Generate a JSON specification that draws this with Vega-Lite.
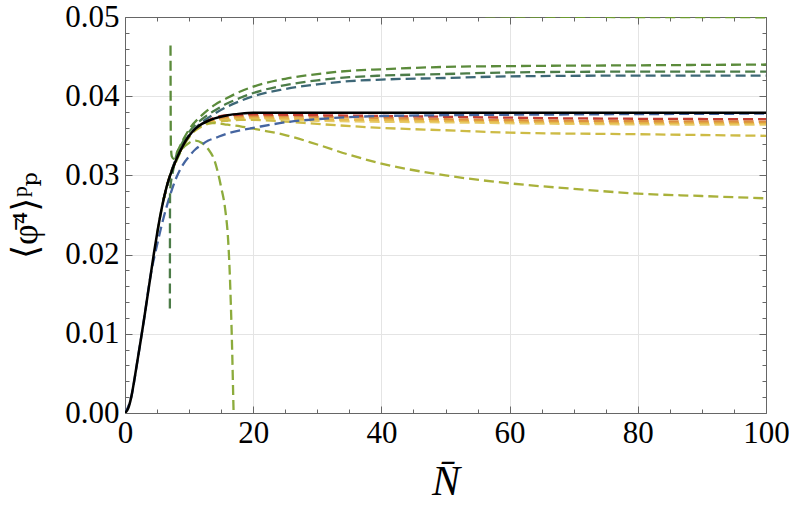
{
  "$schema": "https://vega.github.io/schema/vega-lite/v6.json",
  "width": 641,
  "height": 396,
  "autosize": {"type": "none"},
  "padding": {"left": 125, "top": 17, "right": 23, "bottom": 106},
  "background": "white",
  "config": {"view": {"stroke": null}, "font": "Liberation Serif"},
  "data": {
    "values": [
      {"s": "s01", "n": 56.2, "v": 0.05008}, {"s": "s01", "n": 70, "v": 0.05002}, {"s": "s01", "n": 100, "v": 0.04997},

      {"s": "s02", "n": 6, "v": 0.0269}, {"s": "s02", "n": 7, "v": 0.0299}, {"s": "s02", "n": 8, "v": 0.032}, {"s": "s02", "n": 9, "v": 0.0337}, {"s": "s02", "n": 10, "v": 0.035}, {"s": "s02", "n": 11, "v": 0.0358},
      {"s": "s02", "n": 12, "v": 0.0364}, {"s": "s02", "n": 14, "v": 0.0369}, {"s": "s02", "n": 16, "v": 0.0371}, {"s": "s02", "n": 20, "v": 0.0372}, {"s": "s02", "n": 30, "v": 0.0369}, {"s": "s02", "n": 50, "v": 0.0367}, {"s": "s02", "n": 70, "v": 0.0365}, {"s": "s02", "n": 100, "v": 0.0364},

      {"s": "s03", "n": 6, "v": 0.0269}, {"s": "s03", "n": 7, "v": 0.0299}, {"s": "s03", "n": 8, "v": 0.032}, {"s": "s03", "n": 9, "v": 0.0337}, {"s": "s03", "n": 10, "v": 0.035}, {"s": "s03", "n": 11, "v": 0.0359},
      {"s": "s03", "n": 12, "v": 0.0365}, {"s": "s03", "n": 14, "v": 0.037}, {"s": "s03", "n": 16, "v": 0.0372}, {"s": "s03", "n": 20, "v": 0.0373}, {"s": "s03", "n": 30, "v": 0.0371}, {"s": "s03", "n": 50, "v": 0.0369}, {"s": "s03", "n": 70, "v": 0.0367}, {"s": "s03", "n": 100, "v": 0.0366},

      {"s": "s04", "n": 6, "v": 0.0269}, {"s": "s04", "n": 7, "v": 0.0299}, {"s": "s04", "n": 8, "v": 0.032}, {"s": "s04", "n": 9, "v": 0.0337}, {"s": "s04", "n": 10, "v": 0.035}, {"s": "s04", "n": 11, "v": 0.0359},
      {"s": "s04", "n": 12, "v": 0.0365}, {"s": "s04", "n": 14, "v": 0.0371}, {"s": "s04", "n": 16, "v": 0.0374}, {"s": "s04", "n": 20, "v": 0.0375}, {"s": "s04", "n": 30, "v": 0.0374}, {"s": "s04", "n": 50, "v": 0.0371}, {"s": "s04", "n": 70, "v": 0.0369}, {"s": "s04", "n": 100, "v": 0.0368},

      {"s": "s05", "n": 6, "v": 0.0269}, {"s": "s05", "n": 7, "v": 0.0299}, {"s": "s05", "n": 8, "v": 0.032}, {"s": "s05", "n": 9, "v": 0.0337}, {"s": "s05", "n": 10, "v": 0.035}, {"s": "s05", "n": 11, "v": 0.0359}, {"s": "s05", "n": 12, "v": 0.0365},
      {"s": "s05", "n": 14, "v": 0.0373}, {"s": "s05", "n": 16, "v": 0.0376}, {"s": "s05", "n": 20, "v": 0.0377}, {"s": "s05", "n": 30, "v": 0.0376}, {"s": "s05", "n": 50, "v": 0.0374}, {"s": "s05", "n": 70, "v": 0.0372}, {"s": "s05", "n": 100, "v": 0.0371},

      {"s": "s06", "n": 6, "v": 0.0269}, {"s": "s06", "n": 7, "v": 0.0299}, {"s": "s06", "n": 8, "v": 0.032}, {"s": "s06", "n": 9, "v": 0.0336},
      {"s": "s06", "n": 10, "v": 0.0349}, {"s": "s06", "n": 12, "v": 0.0362}, {"s": "s06", "n": 14, "v": 0.0367}, {"s": "s06", "n": 16, "v": 0.0369}, {"s": "s06", "n": 18, "v": 0.037}, {"s": "s06", "n": 20, "v": 0.037}, {"s": "s06", "n": 25, "v": 0.0368}, {"s": "s06", "n": 30, "v": 0.0365}, {"s": "s06", "n": 40, "v": 0.036}, {"s": "s06", "n": 50, "v": 0.0357}, {"s": "s06", "n": 60, "v": 0.0354}, {"s": "s06", "n": 80, "v": 0.0352}, {"s": "s06", "n": 100, "v": 0.035},

      {"s": "s07", "n": 6, "v": 0.0269}, {"s": "s07", "n": 7, "v": 0.0299}, {"s": "s07", "n": 8, "v": 0.032}, {"s": "s07", "n": 9, "v": 0.0336},
      {"s": "s07", "n": 10, "v": 0.0348}, {"s": "s07", "n": 11, "v": 0.0358}, {"s": "s07", "n": 12, "v": 0.0363}, {"s": "s07", "n": 13, "v": 0.0366}, {"s": "s07", "n": 14, "v": 0.0366}, {"s": "s07", "n": 16, "v": 0.0364}, {"s": "s07", "n": 18, "v": 0.0362}, {"s": "s07", "n": 20, "v": 0.0359}, {"s": "s07", "n": 22, "v": 0.0356}, {"s": "s07", "n": 25, "v": 0.0351}, {"s": "s07", "n": 30, "v": 0.0339}, {"s": "s07", "n": 35, "v": 0.0326}, {"s": "s07", "n": 40, "v": 0.0315}, {"s": "s07", "n": 50, "v": 0.03}, {"s": "s07", "n": 60, "v": 0.029}, {"s": "s07", "n": 70, "v": 0.0283}, {"s": "s07", "n": 80, "v": 0.0277}, {"s": "s07", "n": 90, "v": 0.0274}, {"s": "s07", "n": 100, "v": 0.0271},

      {"s": "s08", "n": 5, "v": 0.0226}, {"s": "s08", "n": 6, "v": 0.0269}, {"s": "s08", "n": 7, "v": 0.0299},
      {"s": "s08", "n": 8, "v": 0.0318}, {"s": "s08", "n": 9, "v": 0.0334}, {"s": "s08", "n": 10, "v": 0.0341}, {"s": "s08", "n": 11, "v": 0.0344}, {"s": "s08", "n": 12, "v": 0.0341}, {"s": "s08", "n": 13, "v": 0.0333}, {"s": "s08", "n": 14, "v": 0.0318}, {"s": "s08", "n": 14.6, "v": 0.03}, {"s": "s08", "n": 15, "v": 0.0285}, {"s": "s08", "n": 15.6, "v": 0.0259}, {"s": "s08", "n": 16.1, "v": 0.0217}, {"s": "s08", "n": 16.3, "v": 0.0185}, {"s": "s08", "n": 16.5, "v": 0.014}, {"s": "s08", "n": 16.7, "v": 0.0085}, {"s": "s08", "n": 16.9, "v": 0.0015}, {"s": "s08", "n": 17, "v": -0.002},

      {"s": "s09", "n": 0, "v": 0}, {"s": "s09", "n": 1, "v": 0.0021}, {"s": "s09", "n": 2, "v": 0.0069}, {"s": "s09", "n": 3, "v": 0.012}, {"s": "s09", "n": 4, "v": 0.0174},
      {"s": "s09", "n": 5, "v": 0.0212}, {"s": "s09", "n": 6, "v": 0.0246}, {"s": "s09", "n": 7, "v": 0.0274}, {"s": "s09", "n": 8, "v": 0.0297}, {"s": "s09", "n": 9, "v": 0.0313}, {"s": "s09", "n": 10, "v": 0.0324}, {"s": "s09", "n": 11, "v": 0.0333}, {"s": "s09", "n": 12, "v": 0.0339}, {"s": "s09", "n": 13, "v": 0.0344}, {"s": "s09", "n": 14, "v": 0.0347}, {"s": "s09", "n": 16, "v": 0.0353}, {"s": "s09", "n": 18, "v": 0.0357}, {"s": "s09", "n": 20, "v": 0.036}, {"s": "s09", "n": 25, "v": 0.0367}, {"s": "s09", "n": 30, "v": 0.0371}, {"s": "s09", "n": 40, "v": 0.0375}, {"s": "s09", "n": 50, "v": 0.0376}, {"s": "s09", "n": 70, "v": 0.0377}, {"s": "s09", "n": 100, "v": 0.0378},

      {"s": "s10", "n": 6, "v": 0.0269}, {"s": "s10", "n": 7, "v": 0.0299},
      {"s": "s10", "n": 8, "v": 0.0322}, {"s": "s10", "n": 9, "v": 0.0339}, {"s": "s10", "n": 10, "v": 0.0351}, {"s": "s10", "n": 12, "v": 0.0367}, {"s": "s10", "n": 14, "v": 0.0378}, {"s": "s10", "n": 16, "v": 0.0387}, {"s": "s10", "n": 18, "v": 0.0394}, {"s": "s10", "n": 20, "v": 0.04}, {"s": "s10", "n": 25, "v": 0.0409}, {"s": "s10", "n": 30, "v": 0.0415}, {"s": "s10", "n": 35, "v": 0.0419}, {"s": "s10", "n": 40, "v": 0.0421}, {"s": "s10", "n": 50, "v": 0.0423}, {"s": "s10", "n": 60, "v": 0.0425}, {"s": "s10", "n": 80, "v": 0.0426}, {"s": "s10", "n": 100, "v": 0.0426},

      {"s": "s11", "n": 7, "v": 0.0132}, {"s": "s11", "n": 7.03, "v": 0.028}, {"s": "s11", "n": 7.5, "v": 0.0306},
      {"s": "s11", "n": 8, "v": 0.0325}, {"s": "s11", "n": 9, "v": 0.0342}, {"s": "s11", "n": 10, "v": 0.0355}, {"s": "s11", "n": 12, "v": 0.0371}, {"s": "s11", "n": 14, "v": 0.0382}, {"s": "s11", "n": 16, "v": 0.0391}, {"s": "s11", "n": 18, "v": 0.0398}, {"s": "s11", "n": 20, "v": 0.0404}, {"s": "s11", "n": 25, "v": 0.0414}, {"s": "s11", "n": 30, "v": 0.042}, {"s": "s11", "n": 35, "v": 0.0424}, {"s": "s11", "n": 40, "v": 0.0426}, {"s": "s11", "n": 50, "v": 0.0428}, {"s": "s11", "n": 60, "v": 0.043}, {"s": "s11", "n": 80, "v": 0.0431}, {"s": "s11", "n": 100, "v": 0.0431},

      {"s": "s12", "n": 7.1, "v": 0.0464}, {"s": "s12", "n": 7.15, "v": 0.034}, {"s": "s12", "n": 7.3, "v": 0.0324}, {"s": "s12", "n": 7.6, "v": 0.0321},
      {"s": "s12", "n": 8, "v": 0.0327}, {"s": "s12", "n": 9, "v": 0.0344}, {"s": "s12", "n": 10, "v": 0.0358}, {"s": "s12", "n": 12, "v": 0.0376}, {"s": "s12", "n": 14, "v": 0.0389}, {"s": "s12", "n": 16, "v": 0.0398}, {"s": "s12", "n": 18, "v": 0.0406}, {"s": "s12", "n": 20, "v": 0.0412}, {"s": "s12", "n": 25, "v": 0.0422}, {"s": "s12", "n": 30, "v": 0.0428}, {"s": "s12", "n": 35, "v": 0.0432}, {"s": "s12", "n": 40, "v": 0.0434}, {"s": "s12", "n": 50, "v": 0.0437}, {"s": "s12", "n": 60, "v": 0.0438}, {"s": "s12", "n": 80, "v": 0.0439}, {"s": "s12", "n": 100, "v": 0.044},

      {"s": "k", "n": 0, "v": 0}, {"s": "k", "n": 0.5, "v": 0.0006}, {"s": "k", "n": 1, "v": 0.0021}, {"s": "k", "n": 1.5, "v": 0.0044}, {"s": "k", "n": 2, "v": 0.0069}, {"s": "k", "n": 2.5, "v": 0.0094}, {"s": "k", "n": 3, "v": 0.012}, {"s": "k", "n": 3.5, "v": 0.0147}, {"s": "k", "n": 4, "v": 0.0174}, {"s": "k", "n": 4.5, "v": 0.0201}, {"s": "k", "n": 5, "v": 0.0226}, {"s": "k", "n": 5.5, "v": 0.0249}, {"s": "k", "n": 6, "v": 0.0269}, {"s": "k", "n": 6.5, "v": 0.0286}, {"s": "k", "n": 7, "v": 0.0299}, {"s": "k", "n": 8, "v": 0.032}, {"s": "k", "n": 9, "v": 0.0337}, {"s": "k", "n": 10, "v": 0.035}, {"s": "k", "n": 11, "v": 0.0359}, {"s": "k", "n": 12, "v": 0.0365}, {"s": "k", "n": 13, "v": 0.0369}, {"s": "k", "n": 14, "v": 0.0372}, {"s": "k", "n": 16, "v": 0.0376}, {"s": "k", "n": 18, "v": 0.0378}, {"s": "k", "n": 20, "v": 0.0379}, {"s": "k", "n": 30, "v": 0.0379}, {"s": "k", "n": 50, "v": 0.0379}, {"s": "k", "n": 100, "v": 0.0379}
    ]
  },
  "layer": [
    {
      "transform": [{"filter": "datum.s !== 'k'"}],
      "mark": {"type": "line", "strokeDash": [10, 5], "strokeWidth": 2.3, "interpolate": "monotone", "clip": true},
      "encoding": {
        "x": {
          "field": "n",
          "type": "quantitative",
          "scale": {"domain": [0, 100], "nice": false},
          "axis": {
            "orient": "bottom",
            "values": [0, 5, 10, 15, 20, 25, 30, 35, 40, 45, 50, 55, 60, 65, 70, 75, 80, 85, 90, 95, 100],
            "labelExpr": "datum.value % 20 === 0 ? datum.label : ''",
            "format": "d",
            "labelFont": "Liberation Serif",
            "labelFontSize": 31,
            "labelColor": "black",
            "labelPadding": 12,
            "labelFlush": false,
            "labelOverlap": false,
            "tickSize": {"condition": {"test": "datum.value % 20 === 0", "value": -7}, "value": -4},
            "tickColor": "#666666",
            "domainColor": "#666666",
            "grid": true,
            "gridColor": "#e4e4e4",
            "gridOpacity": {"condition": {"test": "datum.value % 20 === 0 && datum.value > 0 && datum.value < 100", "value": 1}, "value": 0},
            "title": "N̄",
            "titleFont": "Liberation Serif",
            "titleFontStyle": "italic",
            "titleFontWeight": "normal",
            "titleFontSize": 42,
            "titleColor": "black",
            "titlePadding": 10
          }
        },
        "y": {
          "field": "v",
          "type": "quantitative",
          "scale": {"domain": [0, 0.05], "nice": false},
          "axis": {
            "orient": "left",
            "values": [0, 0.002, 0.004, 0.006, 0.008, 0.01, 0.012, 0.014, 0.016, 0.018, 0.02, 0.022, 0.024, 0.026, 0.028, 0.03, 0.032, 0.034, 0.036, 0.038, 0.04, 0.042, 0.044, 0.046, 0.048, 0.05],
            "labelExpr": "abs(datum.value * 100 - round(datum.value * 100)) < 0.000001 ? format(datum.value, '.2f') : ''",
            "labelFont": "Liberation Serif",
            "labelFontSize": 31,
            "labelColor": "black",
            "labelPadding": 13,
            "labelFlush": false,
            "labelOverlap": false,
            "tickSize": {"condition": {"test": "abs(datum.value * 100 - round(datum.value * 100)) < 0.000001", "value": -7}, "value": -4},
            "tickColor": "#666666",
            "domainColor": "#666666",
            "grid": true,
            "gridColor": "#e4e4e4",
            "gridOpacity": {"condition": {"test": "abs(datum.value * 100 - round(datum.value * 100)) < 0.000001 && datum.value > 0.001 && datum.value < 0.049", "value": 1}, "value": 0},
            "title": "⟨φ̄⁴⟩ᵖₚ",
            "titleFont": "Liberation Serif, DejaVu Serif, serif",
            "titleFontWeight": "normal",
            "titleFontSize": 36,
            "titleColor": "black",
            "titlePadding": 20
          }
        },
        "color": {
          "field": "s",
          "type": "nominal",
          "scale": {
            "domain": ["s01", "s02", "s03", "s04", "s05", "s06", "s07", "s08", "s09", "s10", "s11", "s12"],
            "range": ["#6b9a2e", "#e8cc6a", "#e5b94a", "#dc8f3e", "#c53d32", "#cdbb45", "#a9b13a", "#8cab3c", "#4565a0", "#3d6777", "#4c7c48", "#5b8b3b"]
          },
          "legend": null
        }
      }
    },
    {
      "transform": [{"filter": "datum.s === 'k'"}],
      "mark": {"type": "line", "color": "black", "strokeWidth": 2.5, "interpolate": "monotone", "clip": true},
      "encoding": {
        "x": {
          "field": "n",
          "type": "quantitative",
          "scale": {"domain": [0, 100], "nice": false},
          "axis": {
            "orient": "top",
            "values": [0, 5, 10, 15, 20, 25, 30, 35, 40, 45, 50, 55, 60, 65, 70, 75, 80, 85, 90, 95, 100],
            "labels": false,
            "tickSize": {"condition": {"test": "datum.value % 20 === 0", "value": -7}, "value": -4},
            "tickColor": "#666666",
            "domainColor": "#666666",
            "grid": false,
            "title": null
          }
        },
        "y": {
          "field": "v",
          "type": "quantitative",
          "scale": {"domain": [0, 0.05], "nice": false},
          "axis": {
            "orient": "right",
            "values": [0, 0.002, 0.004, 0.006, 0.008, 0.01, 0.012, 0.014, 0.016, 0.018, 0.02, 0.022, 0.024, 0.026, 0.028, 0.03, 0.032, 0.034, 0.036, 0.038, 0.04, 0.042, 0.044, 0.046, 0.048, 0.05],
            "labels": false,
            "tickSize": {"condition": {"test": "abs(datum.value * 100 - round(datum.value * 100)) < 0.000001", "value": -7}, "value": -4},
            "tickColor": "#666666",
            "domainColor": "#666666",
            "grid": false,
            "title": null
          }
        }
      }
    }
  ],
  "resolve": {"axis": {"x": "independent", "y": "independent"}}
}
